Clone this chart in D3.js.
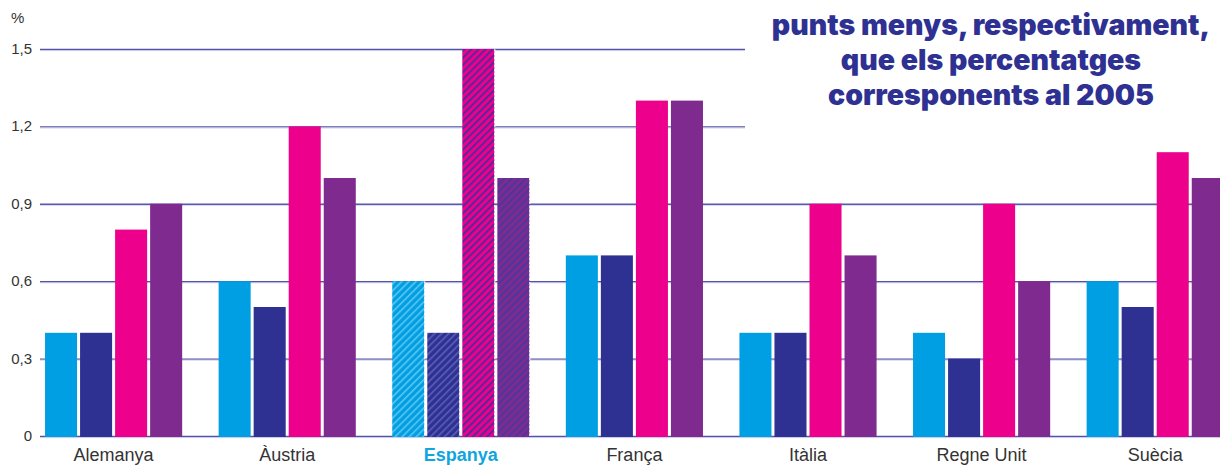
<!DOCTYPE html>
<html>
<head>
<meta charset="utf-8">
<script src="https://cdn.jsdelivr.net/npm/d3@7"></script>
<style>
  html, body { margin: 0; padding: 0; background: #fff; }
  svg { display: block; }
</style>
</head>
<body>
<svg id="chart" width="1220" height="465"></svg>
<script>
// Countries on the x axis
const categories = ["Alemanya", "Àustria", "Espanya", "França", "Itàlia", "Regne Unit", "Suècia"];
// Four series per country (in %)
const seriesKeys = ["s1", "s2", "s3", "s4"];
const s1 = [0.4, 0.6, 0.6, 0.7, 0.4, 0.4, 0.6];
const s2 = [0.4, 0.5, 0.4, 0.7, 0.4, 0.3, 0.5];
const s3 = [0.8, 1.2, 1.5, 1.3, 0.9, 0.9, 1.1];
const s4 = [0.9, 1.0, 1.0, 1.3, 0.7, 0.6, 1.0];
const seriesValues = [s1, s2, s3, s4];
const yTicks = [0, 0.3, 0.6, 0.9, 1.2, 1.5];
const highlighted = "Espanya";
const headline = ["punts menys, respectivament,", "que els percentatges", "corresponents al 2005"];

const colors = ["#009fe3", "#2e3192", "#ec008c", "#7f2a8e"];
const hatchColors = ["#5cc6f0", "#5a5fb8", "#3b2f9c", "#3f3aa0"];

const svg = d3.select("#chart");
const W = 1220;

const y = d3.scaleLinear().domain([0, 1.5]).range([436, 49]);
const x = d3.scaleBand().domain(categories).range([26.8, 1242]).paddingInner(0.21).paddingOuter(0.105);
const xs = d3.scaleBand().domain(seriesKeys).range([0, x.bandwidth()]).paddingInner(0.0857).paddingOuter(0);

// Hatch patterns for the highlighted country
const defs = svg.append("defs");
colors.forEach((c, i) => {
  const p = defs.append("pattern")
    .attr("id", "hatch" + i)
    .attr("patternUnits", "userSpaceOnUse")
    .attr("width", 5).attr("height", 5)
    .attr("patternTransform", "rotate(45)");
  p.append("rect").attr("width", 5).attr("height", 5).attr("fill", c);
  p.append("rect").attr("x", 0).attr("width", 1.6).attr("height", 5).attr("fill", hatchColors[i]);
});

// Gridlines
const grid = svg.append("g");
grid.selectAll("line").data(yTicks).join("line")
  .attr("x1", 40).attr("x2", W)
  .attr("y1", d => y(d) + 0.5).attr("y2", d => y(d) + 0.5)
  .attr("stroke", "#5252aa").attr("stroke-width", 1.4);
grid.selectAll("line.halo").data(yTicks).join("line").attr("class", "halo")
  .attr("x1", 40).attr("x2", W)
  .attr("y1", d => y(d) + 1.6).attr("y2", d => y(d) + 1.6)
  .attr("stroke", "#c9c9e6").attr("stroke-width", 0.8);

// Y tick labels
svg.append("g").selectAll("text").data(yTicks).join("text")
  .attr("x", 32).attr("y", d => y(d) + 5)
  .attr("text-anchor", "end")
  .attr("font-family", "Liberation Sans, Arial, sans-serif")
  .attr("font-size", 15)
  .attr("fill", "#333")
  .text(d => d3.format(".1f")(d).replace(".", ",").replace(/^0,0$/, "0"));

svg.append("text").attr("x", 11).attr("y", 23)
  .attr("font-family", "Liberation Sans, Arial, sans-serif")
  .attr("font-size", 15).attr("fill", "#333").text("%");

// Bars
const groups = svg.append("g").selectAll("g").data(categories).join("g")
  .attr("transform", d => `translate(${x(d)},0)`);

groups.each(function(cat, ci) {
  const g = d3.select(this);
  const isHi = cat === highlighted;
  const rows = seriesKeys.map((k, si) => ({k, si, v: seriesValues[si][ci]}));
  g.selectAll("rect").data(rows).join("rect")
    .attr("x", d => xs(d.k))
    .attr("y", d => y(d.v))
    .attr("width", xs.bandwidth())
    .attr("height", d => y(0) - y(d.v) + 1)
    .attr("fill", d => isHi ? `url(#hatch${d.si})` : colors[d.si]);
  if (isHi) {
    g.selectAll("line.edge").data(rows).join("line")
      .attr("class", "edge")
      .attr("x1", d => xs(d.k) + xs.bandwidth() + 0.5)
      .attr("x2", d => xs(d.k) + xs.bandwidth() + 0.5)
      .attr("y1", d => y(d.v)).attr("y2", y(0))
      .attr("stroke", "#fff").attr("stroke-width", 1)
      .attr("stroke-dasharray", "2,2");
  }
});

// Category labels
svg.append("g").selectAll("text").data(categories).join("text")
  .attr("x", d => x(d) + x.bandwidth() / 2)
  .attr("y", 461)
  .attr("text-anchor", "middle")
  .attr("font-family", "Liberation Sans, Arial, sans-serif")
  .attr("font-size", 18)
  .attr("font-weight", d => d === highlighted ? "bold" : "normal")
  .attr("fill", d => d === highlighted ? "#0ea5e0" : "#333")
  .text(d => d);

// Headline box in the upper right
svg.append("rect").attr("x", 745).attr("y", 0).attr("width", W - 745).attr("height", 140).attr("fill", "#fff");
svg.append("g").selectAll("text").data(headline).join("text")
  .attr("x", 991)
  .attr("y", (d, i) => 35 + i * 35)
  .attr("text-anchor", "middle")
  .attr("font-family", "Inter, Roboto, sans-serif")
  .attr("font-weight", 900)
  .attr("font-size", 28.5)
  .attr("fill", "#2e3192")
  .text(d => d);
</script>
</body>
</html>
